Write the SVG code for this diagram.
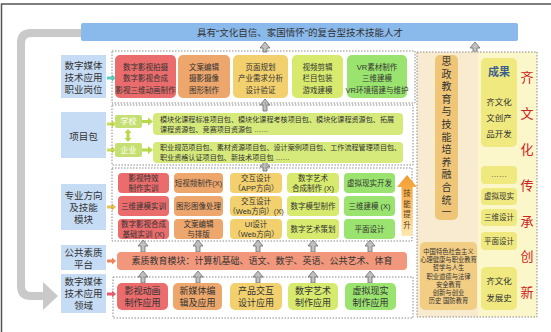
<svg xmlns="http://www.w3.org/2000/svg" width="551" height="332" viewBox="0 0 551 332">
<defs>
<linearGradient id="skill" x1="0" y1="0" x2="0" y2="1"><stop offset="0" stop-color="#f39a2a"/><stop offset="1" stop-color="#fde9b0"/></linearGradient>
</defs>
<style>
text{font-family:'Liberation Sans','Noto Sans CJK SC',sans-serif;fill:#333;text-anchor:middle;dominant-baseline:central}
.lbl rect{fill:#c6dcf4}
.lbl text{font-size:9.5px}
.dot{fill:none;stroke:#8a8a8a;stroke-width:1;stroke-dasharray:1.5 1.5}
.r{fill:#ea6c6c}.o{fill:#eda66c}.y{fill:#f2d06e}.yg{fill:#d7ea6e}.g{fill:#9ae36e}
.s7 text{font-size:7.5px}
.s9 text{font-size:9px}
.pk text{font-size:7.1px;text-anchor:start}
.gar{fill:#c0c0c0;stroke:#6a6a6a;stroke-width:0.8}
.cy{fill:#efe97f}
.rt text{font-size:8.5px}
</style>
<rect width="551" height="332" fill="#fff"/>
<path d="M1.5,332 V4 H551" fill="none" stroke="#555" stroke-width="1.5"/>

<g id="loop-arrow">
<path d="M82,33 H31 Q21,33 21,43 V286 Q21,296 31,296 H46" fill="none" stroke="#c9c9c9" stroke-width="8"/>
<polygon points="43,282 58,296 43,310" fill="#c9c9c9"/>
</g>

<g id="banner">
<rect x="81" y="23" width="437" height="18" rx="2" fill="#8ab9ec"/>
<text x="300" y="32" font-size="9.5" fill="#222">具有“文化自信、家国情怀”的复合型技术技能人才</text>
</g>

<g id="labels" class="lbl">
<g id="lbl-jobs"><rect x="61" y="55" width="45" height="43"/><text x="83.5" y="65">数字媒体</text><text x="83.5" y="77">技术应用</text><text x="83.5" y="89.5">职业岗位</text></g>
<g id="lbl-pack"><rect x="61" y="112" width="45" height="46"/><text x="83.5" y="136">项目包</text></g>
<g id="lbl-dir"><rect x="61" y="184" width="45" height="46"/><text x="83.5" y="195">专业方向</text><text x="83.5" y="207">及技能</text><text x="83.5" y="219">模块</text></g>
<g id="lbl-pub"><rect x="61" y="245" width="45" height="25"/><text x="83.5" y="252.5">公共素质</text><text x="83.5" y="264">平台</text></g>
<g id="lbl-field"><rect x="61" y="274" width="45" height="39"/><text x="83.5" y="281">数字媒体</text><text x="83.5" y="293">技术应用</text><text x="83.5" y="305">领域</text></g>
</g>

<g id="connectors">
<polygon points="107,76.5 112,76.5 112,74.5 116,78 112,81.5 112,79.5 107,79.5" fill="#52d3c3"/>
<polygon points="107,122.5 112,122.5 112,120.5 116,124 112,127.5 112,125.5 107,125.5" fill="#c8e04a"/>
<polygon points="107,148.5 112,148.5 112,146.5 116,150 112,153.5 112,151.5 107,151.5" fill="#c8e04a"/>
<polygon points="107,205.5 112,205.5 112,203.5 116,207 112,210.5 112,208.5 107,208.5" fill="#e8c14e"/>
<polygon points="107,259.5 112,259.5 112,257.5 116,261 112,264.5 112,262.5 107,262.5" fill="#f0825e"/>
<polygon points="107,292.5 112,292.5 112,290.5 116,294 112,297.5 112,295.5 107,295.5" fill="#f0566c"/>
<polygon points="128,129 131.5,133 129.5,133 129.5,138 131.5,138 128,142 124.5,138 126.5,138 126.5,133 124.5,133" fill="#b8d848"/>
<polygon points="142,120 148,120 148,117.5 153,121.5 148,125.5 148,123 142,123" fill="#b8d848"/>
<polygon points="142,148.5 148,148.5 148,146 153,150 148,154 148,151.5 142,151.5" fill="#b8d848"/>
<path class="gar" d="M265,42 l5,6 h-3 V52 h-4 V48 h-3 z"/>
<path class="gar" d="M265,99 l5,6 h-3 V111 h-4 V105 h-3 z"/>
<path class="gar" d="M265,161 l5,6 h-3 V171 h-4 V167 h-3 z"/>
<path class="gar" d="M143,240 l5,6 h-3 V252 h-4 V246 h-3 z"/>
<path class="gar" d="M198,240 l5,6 h-3 V252 h-4 V246 h-3 z"/>
<path class="gar" d="M258,240 l5,6 h-3 V252 h-4 V246 h-3 z"/>
<path class="gar" d="M313,240 l5,6 h-3 V252 h-4 V246 h-3 z"/>
<path class="gar" d="M370,240 l5,6 h-3 V252 h-4 V246 h-3 z"/>
<path class="gar" d="M143,271 l5,6 h-3 V283 h-4 V277 h-3 z"/>
<path class="gar" d="M198,271 l5,6 h-3 V283 h-4 V277 h-3 z"/>
<path class="gar" d="M258,271 l5,6 h-3 V283 h-4 V277 h-3 z"/>
<path class="gar" d="M313,271 l5,6 h-3 V283 h-4 V277 h-3 z"/>
<path class="gar" d="M370,271 l5,6 h-3 V283 h-4 V277 h-3 z"/>
<path class="gar" d="M475,42 l5,6 h-3 V55 h-4 V48 h-3 z"/>
<path class="gar" d="M447,221 l6,8 h-3.5 V242 h-5 V229 h-3.5 z"/>
<path class="gar" d="M499,147 l6,7 h-3.5 V163 h-5 V154 h-3.5 z"/>
<path class="gar" d="M499,250 l6,7 h-3.5 V266 h-5 V257 h-3.5 z"/>
</g>

<g id="jobs" class="s7">
<rect class="dot" x="112" y="51" width="303" height="52"/>
<g id="job1"><rect class="r" x="115" y="55" width="61" height="43" rx="5"/><text x="145.5" y="67">数字影视拍摄</text><text x="145.5" y="78.5">数字影视合成</text><text x="145.5" y="90">影视三维动画制作</text></g>
<g id="job2"><rect class="o" x="178" y="55" width="52" height="43" rx="5"/><text x="204" y="67">文案编辑</text><text x="204" y="78.5">摄影摄像</text><text x="204" y="90">图形制作</text></g>
<g id="job3"><rect class="y" x="233" y="55" width="55" height="43" rx="5"/><text x="260.5" y="67">页面规划</text><text x="260.5" y="78.5">产业需求分析</text><text x="260.5" y="90">设计验证</text></g>
<g id="job4"><rect class="yg" x="292" y="55" width="51" height="43" rx="5"/><text x="317.5" y="67">视频剪辑</text><text x="317.5" y="78.5">栏目包装</text><text x="317.5" y="90">游戏建模</text></g>
<g id="job5"><rect class="g" x="347" y="55" width="60" height="43" rx="5"/><text x="377" y="67">VR素材制作</text><text x="377" y="78.5">三维建模</text><text x="377" y="90">VR环境搭建与维护</text></g>
</g>

<g id="packages">
<rect class="dot" x="112" y="105" width="301" height="60"/>
<g id="school"><rect x="115" y="115" width="27" height="13" rx="2" fill="#c5df72"/><text x="128.5" y="121.5" font-size="8" fill="#fff" style="fill:#fff">学校</text></g>
<g id="enterprise"><rect x="115" y="143" width="27" height="14" rx="2" fill="#c5df72"/><text x="128.5" y="150" font-size="8" style="fill:#fff">企业</text></g>
<g id="pack1" class="pk"><rect x="153" y="113" width="250" height="22" rx="4" fill="#d6ea7c"/><text x="160" y="119.5">模块化课程标准项目包、模块化课程考核项目包、模块化课程资源包、拓展</text><text x="160" y="129.5">课程资源包、竞赛项目资源包 ……</text></g>
<g id="pack2" class="pk"><rect x="153" y="142" width="250" height="21" rx="4" fill="#d6ea7c"/><text x="160" y="147.5">职业规范项目包、素材资源项目包、设计案例项目包、工作流程管理项目包、</text><text x="160" y="157.5">职业资格认证项目包、新技术项目包 ……</text></g>
</g>

<g id="modules" class="s7">
<rect class="dot" x="112" y="168" width="300" height="73"/>
<g id="m11"><rect class="r" x="118" y="173" width="51" height="20" rx="4"/><text x="143.5" y="178.5">影视特效</text><text x="143.5" y="188">制作实训</text></g>
<g id="m21"><rect class="r" x="118" y="196" width="51" height="20" rx="4"/><text x="143.5" y="206">三维建模实训</text></g>
<g id="m31"><rect class="r" x="118" y="219" width="51" height="20" rx="4"/><text x="143.5" y="224.5">数字影视合成</text><text x="143.5" y="234">基础实训 (X)</text></g>
<g id="m12"><rect class="o" x="174" y="173" width="49" height="20" rx="4"/><text x="198.5" y="183">短视频制作(X)</text></g>
<g id="m22"><rect class="o" x="174" y="196" width="49" height="20" rx="4"/><text x="198.5" y="206">图形图像处理</text></g>
<g id="m32"><rect class="o" x="174" y="219" width="49" height="20" rx="4"/><text x="198.5" y="224.5">文案编辑</text><text x="198.5" y="234">与排版</text></g>
<g id="m13"><rect class="y" x="230" y="173" width="52" height="20" rx="4"/><text x="256" y="178.5">交互设计</text><text x="256" y="188">（APP方向）</text></g>
<g id="m23"><rect class="y" x="230" y="196" width="52" height="20" rx="4"/><text x="256" y="201.5">交互设计</text><text x="256" y="211">（Web方向）(X)</text></g>
<g id="m33"><rect class="y" x="230" y="219" width="52" height="20" rx="4"/><text x="256" y="224.5">UI设计</text><text x="256" y="234">（Web方向）</text></g>
<g id="m14"><rect class="yg" x="287" y="173" width="52" height="20" rx="4"/><text x="313" y="178.5">数字艺术</text><text x="313" y="188">合成制作 (X)</text></g>
<g id="m24"><rect class="yg" x="287" y="196" width="52" height="20" rx="4"/><text x="313" y="206">数字模型制作</text></g>
<g id="m34"><rect class="yg" x="287" y="219" width="52" height="20" rx="4"/><text x="313" y="229">数字艺术策划</text></g>
<g id="m15"><rect class="g" x="344" y="173" width="51" height="20" rx="4"/><text x="369.5" y="183">虚拟现实开发</text></g>
<g id="m25"><rect class="g" x="344" y="196" width="51" height="20" rx="4"/><text x="369.5" y="206">三维建模 (X)</text></g>
<g id="m35"><rect class="g" x="344" y="219" width="51" height="20" rx="4"/><text x="369.5" y="229">平面设计</text></g>
<g id="skill-up">
<path d="M407,175 L417,187 L412.5,187 L412.5,236 L401.5,236 L401.5,187 L397,187 Z" fill="url(#skill)"/>
<text x="407" font-size="9" style="fill:#5a3c12"><tspan x="407" y="193">技</tspan><tspan x="407" y="203.5">能</tspan><tspan x="407" y="214">提</tspan><tspan x="407" y="224.5">升</tspan></text>
</g>
</g>

<g id="public">
<rect x="117" y="252" width="290" height="18" rx="4" fill="#f1977c"/>
<text x="262" y="261" font-size="9">素质教育模块：计算机基础、语文、数学、英语、公共艺术、体育</text>
</g>

<g id="fields" class="s9">
<rect class="dot" x="113" y="277" width="300" height="41"/>
<g id="f1"><rect class="r" x="117" y="283" width="51" height="27" rx="5"/><text x="142.5" y="291">影视动画</text><text x="142.5" y="302.5">制作应用</text></g>
<g id="f2"><rect class="o" x="173" y="283" width="49" height="27" rx="5"/><text x="197.5" y="291">新媒体编</text><text x="197.5" y="302.5">辑及应用</text></g>
<g id="f3"><rect class="y" x="230" y="283" width="52" height="27" rx="5"/><text x="256" y="291">产品交互</text><text x="256" y="302.5">设计应用</text></g>
<g id="f4"><rect class="yg" x="288" y="283" width="50" height="27" rx="5"/><text x="313" y="291">数字艺术</text><text x="313" y="302.5">制作应用</text></g>
<g id="f5"><rect class="g" x="345" y="283" width="51" height="27" rx="5"/><text x="370.5" y="291">虚拟现实</text><text x="370.5" y="302.5">制作应用</text></g>
</g>

<g id="culture">
<rect x="417" y="52" width="61" height="265" fill="#f8ebd0"/>
<rect x="478" y="52" width="59" height="265" fill="#fcf6cb"/>
<rect class="dot" x="417" y="52" width="120" height="265"/>
<g id="fusion">
<rect x="435" y="55" width="23" height="165" rx="5" fill="#efc677"/>
<text font-size="10"><tspan x="446.5" y="61">思</tspan><tspan x="446.5" y="73.6">政</tspan><tspan x="446.5" y="86.2">教</tspan><tspan x="446.5" y="98.8">育</tspan><tspan x="446.5" y="111.4">与</tspan><tspan x="446.5" y="124">技</tspan><tspan x="446.5" y="136.6">能</tspan><tspan x="446.5" y="149.2">培</tspan><tspan x="446.5" y="161.8">养</tspan><tspan x="446.5" y="174.4">融</tspan><tspan x="446.5" y="187">合</tspan><tspan x="446.5" y="199.6">统</tspan><tspan x="446.5" y="212.2">一</tspan></text>
</g>
<g id="courses">
<rect x="420" y="242" width="57" height="68" rx="5" fill="#f2cd84"/>
<text font-size="6.3"><tspan x="448.5" y="251">中国特色社会主义</tspan><tspan x="448.5" y="259">心理健康与职业教育</tspan><tspan x="448.5" y="267">哲学与人生</tspan><tspan x="448.5" y="275.5">职业道德与法律</tspan><tspan x="448.5" y="283.5">安全教育</tspan><tspan x="448.5" y="292">创新与创业</tspan><tspan x="448.5" y="300">历史  国防教育</tspan></text>
</g>
<g id="result" class="rt">
<rect class="cy" x="481" y="58" width="36" height="89" rx="5"/>
<text x="499" y="72" font-size="11" font-weight="bold" style="fill:#3e5f8e;font-size:11px">成果</text>
<text x="499" y="102">齐文化</text><text x="499" y="118">文创产</text><text x="499" y="134">品开发</text>
</g>
<g id="etc"><rect class="cy" x="481" y="166" width="36" height="18" rx="4"/><text x="499" y="174" font-size="8">……</text></g>
<g id="vr"><rect class="cy" x="481" y="188" width="36" height="17" rx="4"/><text x="499" y="196.5" font-size="7.5">虚拟现实</text></g>
<g id="3d"><rect class="cy" x="481" y="209" width="36" height="17" rx="4"/><text x="499" y="217.5" font-size="7.5">三维设计</text></g>
<g id="flat"><rect class="cy" x="481" y="232" width="36" height="18" rx="4"/><text x="499" y="241" font-size="7.5">平面设计</text></g>
<g id="history" class="rt"><rect class="cy" x="481" y="267" width="36" height="43" rx="5"/><text x="499" y="281">齐文化</text><text x="499" y="298">发展史</text></g>
<g id="inherit">
<text font-size="13" style="fill:#d02020"><tspan x="527" y="77">齐</tspan><tspan x="527" y="113">文</tspan><tspan x="527" y="149">化</tspan><tspan x="527" y="184.5">传</tspan><tspan x="527" y="220.5">承</tspan><tspan x="527" y="256">创</tspan><tspan x="527" y="292">新</tspan></text>
</g>
</g>
</svg>
